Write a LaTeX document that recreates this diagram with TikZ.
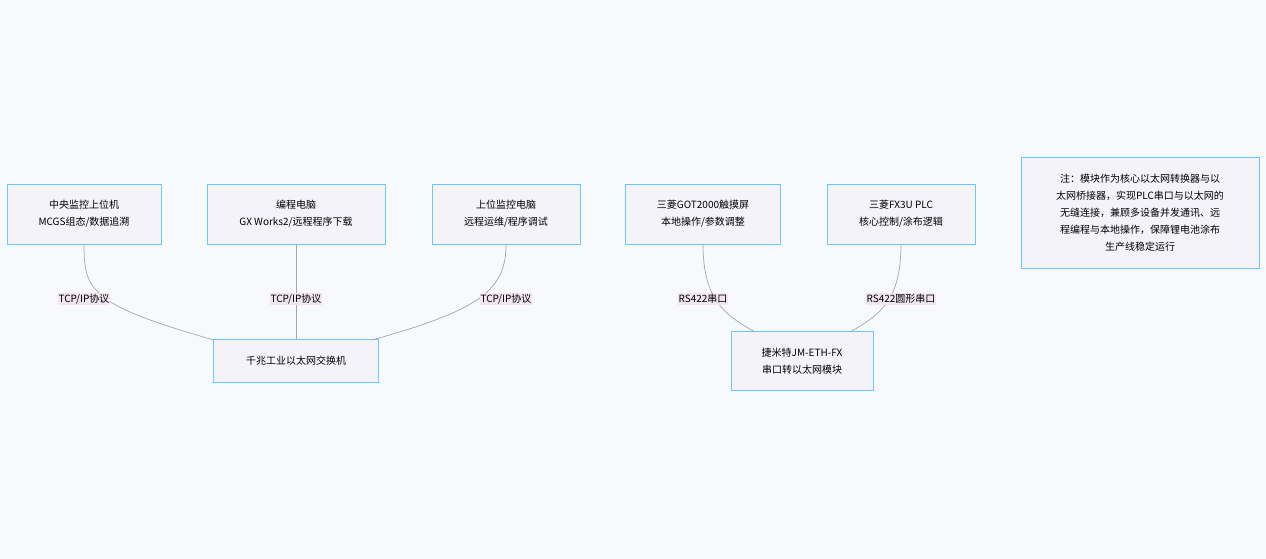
\documentclass[tikz,border=0pt]{standalone}
\usepackage{fontspec}
\setmainfont{Noto Sans CJK SC}
\begin{document}
\begin{tikzpicture}[x=1pt,y=-1pt,
  box/.style={draw=blue!35!cyan!60!white, fill=cyan!8!blue!4!white, line width=0.8pt, align=center, font=\fontsize{10}{17}\selectfont, inner sep=0pt},
  lbl/.style={fill=violet!10!white, font=\fontsize{10}{12}\selectfont, inner sep=1pt},
  edge/.style={draw=gray!70, line width=0.7pt}]
\definecolor{bg}{HTML}{F8F9FC}
\fill[bg] (0,0) rectangle (1266,559);
\useasboundingbox (0,0) rectangle (1266,559);
\node[box, minimum width=154pt, minimum height=60pt] (a) at (84,214) {中央监控上位机\\MCGS组态/数据追溯};
\node[box, minimum width=178pt, minimum height=60pt] (b) at (296,214) {编程电脑\\GX Works2/远程程序下载};
\node[box, minimum width=148pt, minimum height=60pt] (c) at (506,214) {上位监控电脑\\远程运维/程序调试};
\node[box, minimum width=155pt, minimum height=60pt] (d) at (703,214) {三菱GOT2000触摸屏\\本地操作/参数调整};
\node[box, minimum width=148pt, minimum height=60pt] (e) at (901,214) {三菱FX3U PLC\\核心控制/涂布逻辑};
\node[box, minimum width=238pt, minimum height=111pt] (n) at (1140,213) {注：模块作为核心以太网转换器与以\\太网桥接器，实现PLC串口与以太网的\\无缝连接，兼顾多设备并发通讯、远\\程编程与本地操作，保障锂电池涂布\\生产线稳定运行};
\node[box, minimum width=165pt, minimum height=43pt] (s) at (296,361) {千兆工业以太网交换机};
\node[box, minimum width=142pt, minimum height=59pt] (m) at (802,361) {捷米特JM-ETH-FX\\串口转以太网模块};
\coordinate (s1) at (214,340); \coordinate (s3) at (372,340);
\coordinate (m1) at (755,332); \coordinate (m2) at (850,332);
\draw[edge] (a.south) .. controls (84,290) and (90,305) .. (s1);
\draw[edge] (b.south) -- (s.north);
\draw[edge] (c.south) .. controls (506,290) and (480,310) .. (s3);
\draw[edge] (d.south) .. controls (703,300) and (725,315) .. (m1);
\draw[edge] (e.south) .. controls (901,300) and (880,315) .. (m2);
\node[lbl] (l1) at (84,299) {TCP/IP协议};
\node[lbl] (l2) at (296,299) {TCP/IP协议};
\node[lbl] (l3) at (506,299) {TCP/IP协议};
\node[lbl] (l4) at (703,299) {RS422串口};
\node[lbl] (l5) at (901,299) {RS422圆形串口};
\end{tikzpicture}
\end{document}
